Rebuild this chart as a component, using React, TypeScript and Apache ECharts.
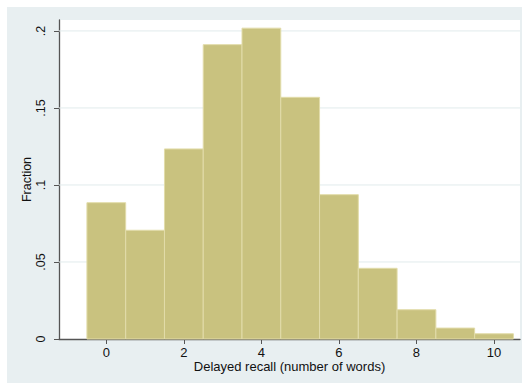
import React, { useEffect, useRef } from "react";
import * as echarts from "echarts";

// Histogram: delayed recall (number of words), fraction per bin
const binStarts = [-0.5, 0.5, 1.5, 2.5, 3.5, 4.5, 5.5, 6.5, 7.5, 8.5, 9.5];
const binEnds = [0.5, 1.5, 2.5, 3.5, 4.5, 5.5, 6.5, 7.5, 8.5, 9.5, 10.5];
const fractions = [0.0885, 0.0706, 0.1234, 0.1911, 0.2018, 0.1569, 0.0937, 0.0459, 0.019, 0.0071, 0.0034];
const xTicks = [0, 2, 4, 6, 8, 10];
const xTickLabels = ["0", "2", "4", "6", "8", "10"];
const yTicks = [0, 0.05, 0.1, 0.15, 0.2];
const yTickLabels = ["0", ".05", ".1", ".15", ".2"];
const xTitle = "Delayed recall (number of words)";
const yTitle = "Fraction";

export default function App() {
  const ref = useRef<HTMLDivElement>(null);
  useEffect(() => {
    if (!ref.current) return;
    const chart = echarts.init(ref.current, null, { renderer: "svg" });
    const data = binStarts.map((s, i) => [s, binEnds[i], fractions[i]]);
    const font = "'Liberation Sans', Arial, sans-serif";
    chart.setOption({
      animation: false,
      backgroundColor: "#ffffff",
      graphic: [
        {
          type: "rect",
          z: -10,
          silent: true,
          shape: { x: 7, y: 7, width: 515, height: 376 },
          style: { fill: "#e8eff1" },
        },
        {
          type: "rect",
          z: -9,
          silent: true,
          shape: { x: 59, y: 20, width: 461, height: 319 },
          style: { fill: "#ffffff" },
        },
        {
          type: "text",
          x: 106,
          y: -33,
          silent: true,
          style: {
            text: "g",
            font: "30px 'Liberation Serif', serif",
            fill: "#222",
          },
        },
      ],
      grid: { left: 59, right: 8, top: 20, bottom: 50, containLabel: false },
      xAxis: {
        type: "value",
        min: -1.22,
        max: 10.67,
        name: xTitle,
        nameLocation: "middle",
        nameGap: 21,
        nameMoveOverlap: false,
        nameTextStyle: { fontFamily: font, fontSize: 13, color: "#111" },
        axisLine: { show: true, onZero: false, lineStyle: { color: "#555", width: 1.3 } },
        axisTick: {
          show: true,
          length: 5,
          customValues: xTicks,
          lineStyle: { color: "#555" },
        },
        axisLabel: {
          customValues: xTicks,
          margin: 7,
          fontFamily: font,
          fontSize: 13,
          color: "#111",
          formatter: (v: number) => xTickLabels[xTicks.indexOf(v)] ?? "",
        },
        splitLine: { show: false },
      },
      yAxis: {
        type: "value",
        min: 0,
        max: 0.2071,
        name: yTitle,
        nameLocation: "middle",
        nameRotate: 90,
        nameGap: 26,
        nameMoveOverlap: false,
        nameTextStyle: { fontFamily: font, fontSize: 12.5, color: "#111" },
        axisLine: { show: true, onZero: false, lineStyle: { color: "#555", width: 1.3 } },
        axisTick: {
          show: true,
          length: 5,
          customValues: yTicks,
          lineStyle: { color: "#555" },
        },
        axisLabel: {
          customValues: yTicks,
          rotate: 90,
          margin: 12,
          fontFamily: font,
          fontSize: 12.5,
          color: "#111",
          formatter: (v: number) => {
            const i = yTicks.findIndex((t) => Math.abs(t - v) < 1e-9);
            return i >= 0 ? yTickLabels[i] : "";
          },
        },
        splitLine: { show: false },
      },
      series: [
        {
          type: "custom",
          silent: true,
          z: 1,
          data: yTicks.filter((t) => t > 0).map((t) => [t]),
          renderItem: (params: any, api: any) => {
            const y = api.coord([0, api.value(0)])[1];
            const cs = params.coordSys;
            return {
              type: "line",
              shape: { x1: cs.x, y1: y, x2: cs.x + cs.width, y2: y },
              style: { stroke: "#e1ebec", lineWidth: 1 },
            };
          },
        },
        {
          type: "custom",
          z: 2,
          data,
          encode: { x: [0, 1], y: 2 },
          renderItem: (params: any, api: any) => {
            const p0 = api.coord([api.value(0), api.value(2)]);
            const p1 = api.coord([api.value(1), 0]);
            return {
              type: "rect",
              shape: { x: p0[0], y: p0[1], width: p1[0] - p0[0], height: p1[1] - p0[1] },
              style: { fill: "#c9c27f", stroke: "#e2dcaa", lineWidth: 1 },
            };
          },
        },
      ],
    });
    return () => chart.dispose();
  }, []);
  return (
    <div
      ref={ref}
      style={{ position: "absolute", left: 0, top: 0, width: 528, height: 389 }}
    />
  );
}
